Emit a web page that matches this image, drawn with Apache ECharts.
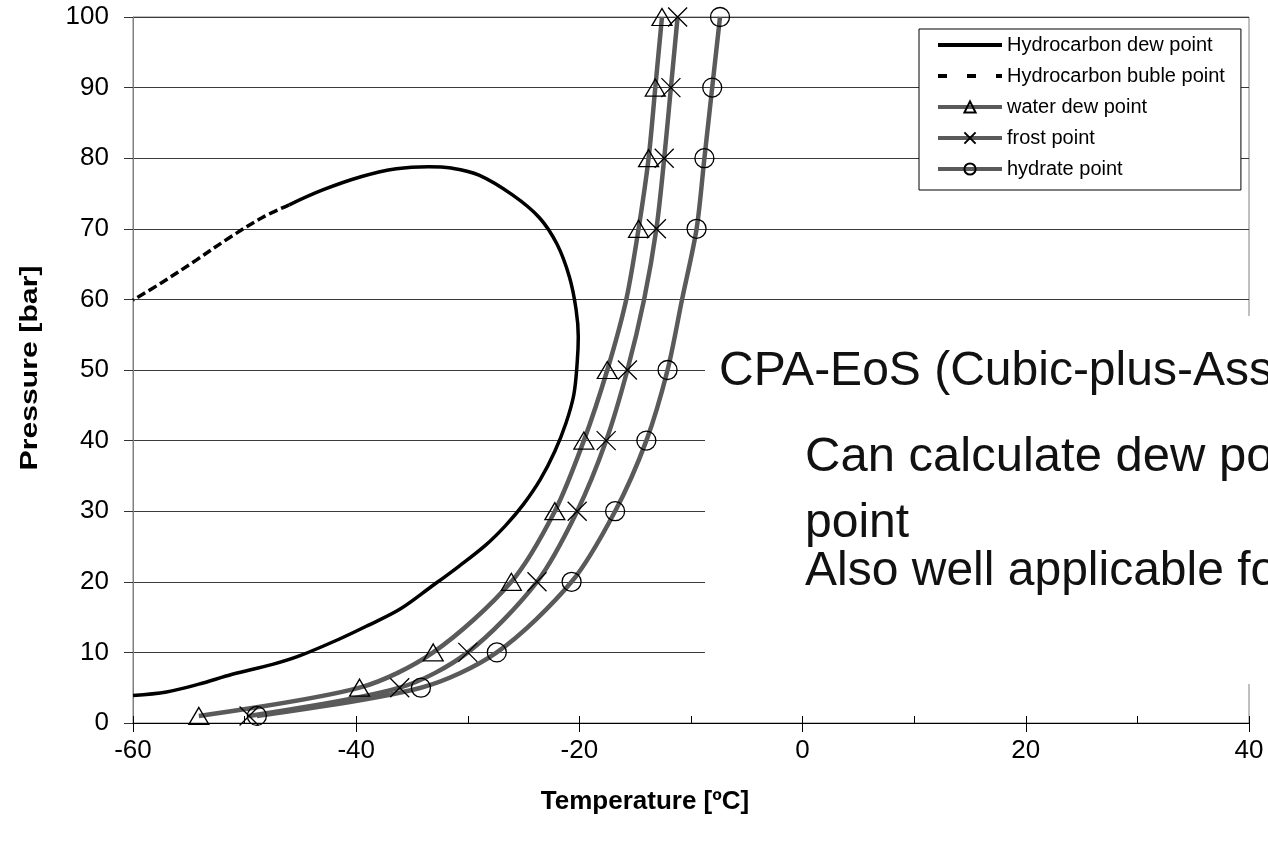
<!DOCTYPE html>
<html>
<head>
<meta charset="utf-8">
<script src="https://cdn.jsdelivr.net/npm/echarts@6/dist/echarts.min.js"></script>
<style>
  html, body { margin: 0; padding: 0; background: #fff; }
  #chart { width: 1268px; height: 843px; }
</style>
</head>
<body>
<div id="chart"></div>
<script>
// Hydrocarbon phase envelope: dew branch (solid) then bubble branch (dashed); temperature ºC, pressure bar
const dewT = [-60, -57, -54.1, -51.1, -47.5, -45.1, -41.5, -39.1, -36.1, -33.2, -30.8, -28.4, -26.6, -25.0, -23.5, -22.2, -21.2, -20.5, -20.2, -20.1, -20.3, -20.9, -22.0, -23.6, -26.0, -29.0, -31.5, -33.5, -36.4, -39.5, -43.0, -46.0];
const dewP = [3.9, 4.4, 5.5, 6.9, 8.3, 9.5, 11.9, 13.7, 16.1, 19.4, 22.2, 25.2, 28.0, 31.0, 34.5, 38.5, 42.5, 46.5, 51.0, 54.7, 58.6, 63.2, 67.8, 71.6, 74.8, 77.6, 78.6, 78.8, 78.5, 77.4, 75.5, 73.4];
const bubT = [-46.0, -48.4, -51.4, -54.3, -57.4, -60];
const bubP = [73.4, 71.6, 68.7, 65.6, 62.4, 59.9];

// Water-related curves, evaluated at these pressures
const wPress   = [1, 5, 10, 20, 30, 40, 50, 60, 70, 80, 90, 100];
const waterDew = [-54.1, -39.7, -33.1, -26.1, -22.2, -19.6, -17.5, -15.8, -14.7, -13.8, -13.2, -12.6];
const frost    = [-49.6, -36.1, -30.0, -23.8, -20.2, -17.6, -15.7, -14.2, -13.1, -12.4, -11.8, -11.2];
const hydrate  = [-48.9, -34.2, -27.4, -20.7, -16.8, -14.0, -12.1, -10.8, -9.5, -8.8, -8.1, -7.4];
// pressures that carry a marker
const markedP  = [1, 5, 10, 20, 30, 40, 50, 70, 80, 90, 100];

const xTicks = [-60, -40, -20, 0, 20, 40];

const FONT = 'Arial, "Liberation Sans", sans-serif';
const CROSS = 'path://M0,0L10,10M10,0L0,10';

function pairs(xs, ys) {
  return xs.map((x, i) => [x, ys[i]]);
}
function markedPairs(temps) {
  return temps.map((t, i) => {
    const p = wPress[i];
    return markedP.includes(p) ? [t, p] : { value: [t, p], symbol: 'none' };
  });
}

const grayLine = { color: '#5a5a5a', width: 4.5 };
const hollow = { color: 'rgba(255,255,255,0)', borderColor: '#000', borderWidth: 1.3 };
const noMark = { color: 'rgba(0,0,0,0)', borderWidth: 0 };

const chart = echarts.init(document.getElementById('chart'), null, { renderer: 'canvas' });

chart.setOption({
  animation: false,
  backgroundColor: '#fff',
  textStyle: { fontFamily: FONT },
  grid: {
    left: 133, right: 19, top: 17, bottom: 120,
    show: true, borderColor: '#808080', borderWidth: 1, backgroundColor: 'transparent'
  },
  legend: {
    orient: 'vertical',
    left: 919, top: 29,
    itemWidth: 64, itemHeight: 14, itemGap: 11,
    padding: [6, 16, 11, 17],
    backgroundColor: '#fff',
    borderColor: '#000', borderWidth: 1,
    textStyle: { fontSize: 20, color: '#000', fontFamily: FONT },
    data: [
      { name: 'Hydrocarbon dew point', lineStyle: { width: 4 } },
      { name: 'Hydrocarbon buble point', lineStyle: { width: 4, type: [9, 20] } },
      { name: 'water dew point', lineStyle: { width: 4 } },
      { name: 'frost point', lineStyle: { width: 4 } },
      { name: 'hydrate point', lineStyle: { width: 4 } }
    ]
  },
  xAxis: [
    {
      type: 'value', min: -60, max: 40, interval: 20,
      name: 'Temperature [ºC]', nameLocation: 'middle', nameGap: 66,
      nameTextStyle: { fontSize: 26, fontWeight: 'bold', color: '#000', fontFamily: FONT, padding: [0, 92, 0, 0] },
      axisLine: { show: true, onZero: false, lineStyle: { color: '#000', width: 1 } },
      axisTick: { show: true, inside: false, length: 9, lineStyle: { color: '#000' } },
      axisLabel: {
        fontSize: 26, color: '#000', margin: 15, fontFamily: FONT,
        formatter: v => xTicks.includes(v) ? String(v) : ''
      },
      splitLine: { show: false }
    },
    {
      // inner tick marks every 10 ºC
      type: 'value', min: -60, max: 40, interval: 10, position: 'bottom',
      axisLine: { show: false, onZero: false },
      axisTick: { show: true, inside: true, length: 7, lineStyle: { color: '#000' } },
      axisLabel: { show: false },
      splitLine: { show: false }
    }
  ],
  yAxis: {
    type: 'value', min: 0, max: 100, interval: 10,
    axisLine: { show: true, onZero: false, lineStyle: { color: '#808080', width: 1 } },
    axisTick: { show: true, inside: false, length: 9, lineStyle: { color: '#333' } },
    axisLabel: { fontSize: 26, color: '#000', margin: 24, fontFamily: FONT },
    splitLine: { show: true, lineStyle: { color: '#3a3a3a', width: 1 } }
  },
  series: [
    {
      name: 'Hydrocarbon dew point', type: 'line', smooth: 0.35,
      data: pairs(dewT, dewP), showSymbol: false, symbol: 'circle',
      lineStyle: { color: '#000', width: 3.5 }, itemStyle: noMark, z: 3
    },
    {
      name: 'Hydrocarbon buble point', type: 'line', smooth: 0.35,
      data: pairs(bubT, bubP), showSymbol: false, symbol: 'circle',
      lineStyle: { color: '#000', width: 3.5, type: [9, 4] }, itemStyle: noMark, z: 3
    },
    {
      name: 'water dew point', type: 'line', smooth: 0.3,
      data: markedPairs(waterDew), symbol: 'triangle', symbolSize: [20, 17], showAllSymbol: true,
      lineStyle: grayLine, itemStyle: hollow, z: 4
    },
    {
      name: 'frost point', type: 'line', smooth: 0.3,
      data: markedPairs(frost), symbol: CROSS, symbolSize: 19, showAllSymbol: true,
      lineStyle: grayLine, itemStyle: hollow, z: 4
    },
    {
      name: 'hydrate point', type: 'line', smooth: 0.3,
      data: markedPairs(hydrate), symbol: 'circle', symbolSize: 19, showAllSymbol: true,
      lineStyle: grayLine, itemStyle: hollow, z: 4
    }
  ],
  graphic: [
    {
      // vertical axis title
      type: 'text', z: 10, x: 30, y: 368, rotation: Math.PI / 2, scaleX: 1.26,
      style: { text: 'Pressure [bar]', font: 'bold 24px ' + FONT, fill: '#000', align: 'center', verticalAlign: 'middle' }
    },
    {
      type: 'rect', z: 100,
      shape: { x: 705, y: 316, width: 600, height: 368 },
      style: { fill: '#fff' }
    },
    {
      type: 'text', z: 101, left: 719, top: 348,
      style: { text: 'CPA-EoS (Cubic-plus-Association)', font: '48px ' + FONT, fill: '#111' }
    },
    {
      type: 'text', z: 101, left: 805, top: 433,
      style: { text: 'Can calculate dew point and hydrate', font: '49px ' + FONT, fill: '#111' }
    },
    {
      type: 'text', z: 101, left: 805, top: 500,
      style: { text: 'point', font: '48px ' + FONT, fill: '#111' }
    },
    {
      type: 'text', z: 101, left: 805, top: 548,
      style: { text: 'Also well applicable for', font: '48px ' + FONT, fill: '#111' }
    }
  ]
});
</script>
</body>
</html>
